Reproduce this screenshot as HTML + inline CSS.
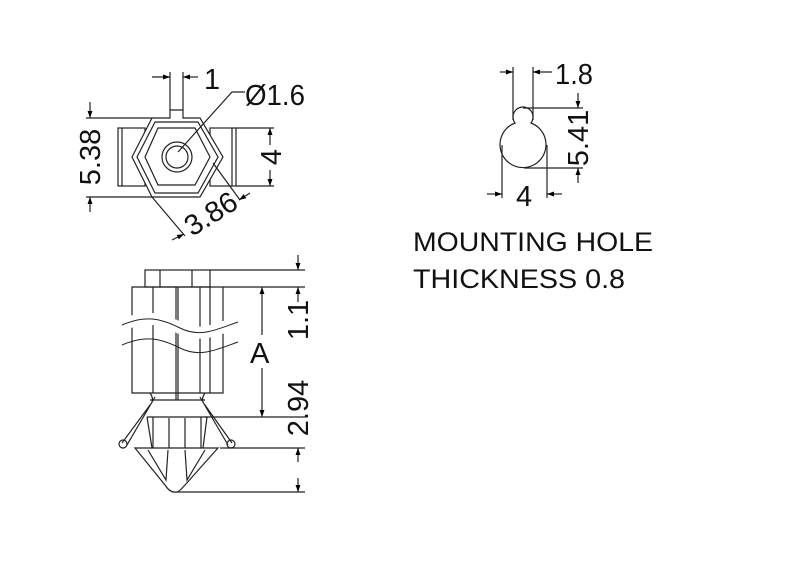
<!DOCTYPE html>
<html><head><style>html,body{margin:0;padding:0;background:#fff}svg{display:block}</style></head><body>
<svg width="800" height="576" viewBox="0 0 800 576" xmlns="http://www.w3.org/2000/svg" font-family="Liberation Sans, sans-serif">
<defs>
<marker id="a" viewBox="0 0 10 10" refX="10" refY="5" markerWidth="9" markerHeight="7" orient="auto-start-reverse" markerUnits="userSpaceOnUse"><path d="M0,1.5 L10,5 L0,8.5 z" fill="#000"/></marker>
</defs>
<g stroke="#222" stroke-width="1.2" fill="none">
<rect x="118" y="128" width="27" height="58"/>
<rect x="210" y="128" width="26" height="58"/>
<line x1="122" y1="128" x2="122" y2="186"/><line x1="232" y1="128" x2="232" y2="186"/>
<polygon points="132,157 152,118 170,118 170,110 183,110 183,118 200,118 223,157 200,197 152,197" fill="#fff"/>
<polygon points="137,157 155,122 198,122 218,157 198,193 155,193"/>
<polygon points="145,157 158,128 195,128 210,157 195,185 158,185"/>
<circle cx="177" cy="157" r="15"/><circle cx="177" cy="157" r="11"/>
<line x1="170" y1="110" x2="170" y2="72"/><line x1="183" y1="110" x2="183" y2="72"/>
<line x1="152" y1="77" x2="170" y2="77" marker-end="url(#a)"/><line x1="198" y1="77" x2="183" y2="77" marker-end="url(#a)"/>
<polyline points="178,152 232,92 245,92"/>
<line x1="86" y1="118" x2="152" y2="118"/><line x1="86" y1="197" x2="152" y2="197"/>
<line x1="90" y1="102" x2="90" y2="118" marker-end="url(#a)"/><line x1="90" y1="212" x2="90" y2="197" marker-end="url(#a)"/>
<line x1="236" y1="128" x2="274" y2="128"/><line x1="236" y1="186" x2="274" y2="186"/>
<line x1="270" y1="145" x2="270" y2="128" marker-end="url(#a)"/><line x1="270" y1="170" x2="270" y2="186" marker-end="url(#a)"/>
<line x1="152" y1="197" x2="185" y2="236"/><line x1="213" y1="163" x2="240" y2="200"/>
<line x1="172" y1="240" x2="184" y2="234" marker-end="url(#a)"/><line x1="250" y1="193" x2="239" y2="200" marker-end="url(#a)"/>

<rect x="145" y="270" width="65" height="17"/>
<line x1="160" y1="270" x2="160" y2="287"/><line x1="192" y1="270" x2="192" y2="287"/>
<path d="M132,287 H223 V393 H132 Z"/>
<line x1="153" y1="287" x2="153" y2="393"/><line x1="176" y1="287" x2="176" y2="400"/><line x1="178" y1="287" x2="178" y2="400"/><line x1="200" y1="287" x2="200" y2="393"/><line x1="210" y1="287" x2="210" y2="393"/>
<path d="M122,325 C145,315 160,318 180,328 C200,338 215,330 238,322" stroke="#fff" stroke-width="12"/>
<path d="M122,325 C145,315 160,318 180,328 C200,338 215,330 238,322" stroke-width="1"/>
<path d="M122,345 C145,335 160,338 180,348 C200,358 215,350 238,342" stroke-width="1"/>
<path d="M150,393 Q155,400 150,405 L122,443 M155,397 L127,445 M205,393 Q200,400 205,405 L232,443 M200,397 L228,445"/>
<circle cx="123" cy="444" r="4"/><circle cx="231" cy="444" r="4"/>
<line x1="150" y1="400" x2="205" y2="400"/>
<path d="M147,417 H207 L203,448 M147,417 L152,448"/>
<line x1="153" y1="417" x2="153" y2="448"/><line x1="201" y1="417" x2="201" y2="448"/>
<line x1="169" y1="418" x2="169" y2="448"/><line x1="185" y1="418" x2="185" y2="448"/>
<path d="M135,448 H218 L185,485 Q178,493 176,492 Q170,493 165,485 Z"/>
<path d="M148,450 L166,480 L168,450 M205,450 L187,480 L185,450"/>
<line x1="210" y1="270" x2="305" y2="270"/><line x1="223" y1="287" x2="305" y2="287"/>
<line x1="205" y1="417" x2="305" y2="417"/><line x1="220" y1="448" x2="305" y2="448"/><line x1="176" y1="492" x2="305" y2="492"/>
<line x1="298" y1="255" x2="298" y2="270" marker-end="url(#a)"/><line x1="298" y1="302" x2="298" y2="287" marker-end="url(#a)"/>
<line x1="298" y1="462" x2="298" y2="448" marker-end="url(#a)"/><line x1="298" y1="478" x2="298" y2="492" marker-end="url(#a)"/>
<line x1="262" y1="335" x2="262" y2="287" marker-end="url(#a)"/><line x1="262" y1="368" x2="262" y2="417" marker-end="url(#a)"/>

<path d="M515,123 A10,10 0 1 1 531,123 A23,23 0 1 1 515,123 Z"/>
<line x1="513" y1="120" x2="513" y2="67"/><line x1="533" y1="120" x2="533" y2="67"/>
<line x1="500" y1="72" x2="513" y2="72" marker-end="url(#a)"/><line x1="552" y1="72" x2="533" y2="72" marker-end="url(#a)"/>
<line x1="523" y1="108" x2="583" y2="108"/><line x1="524" y1="168" x2="583" y2="168"/>
<line x1="578" y1="93" x2="578" y2="108" marker-end="url(#a)"/><line x1="578" y1="183" x2="578" y2="168" marker-end="url(#a)"/>
<line x1="502" y1="145" x2="502" y2="198"/><line x1="547" y1="145" x2="547" y2="198"/>
<line x1="487" y1="194" x2="502" y2="194" marker-end="url(#a)"/><line x1="562" y1="194" x2="547" y2="194" marker-end="url(#a)"/>
</g>
<g fill="#111" font-size="29">
<text x="204" y="89">1</text>
<text x="245" y="105" textLength="60" lengthAdjust="spacingAndGlyphs">Ø1.6</text>
<text transform="translate(100,157) rotate(-90)" text-anchor="middle">5.38</text>
<text transform="translate(281,157) rotate(-90)" text-anchor="middle">4</text>
<text transform="translate(216,222) rotate(-32)" text-anchor="middle">3.86</text>
<text x="250" y="363">A</text>
<text transform="translate(308,320) rotate(-90)" text-anchor="middle">1.1</text>
<text transform="translate(308,408) rotate(-90)" text-anchor="middle">2.94</text>
<text x="555" y="84" textLength="38" lengthAdjust="spacingAndGlyphs">1.8</text>
<text transform="translate(588,138) rotate(-90)" text-anchor="middle">5.41</text>
<text x="516" y="206">4</text>
<text x="413" y="251" font-size="27" textLength="240" lengthAdjust="spacingAndGlyphs">MOUNTING HOLE</text>
<text x="413" y="288" font-size="27" textLength="212" lengthAdjust="spacingAndGlyphs">THICKNESS 0.8</text>
</g>
</svg>
</body></html>
